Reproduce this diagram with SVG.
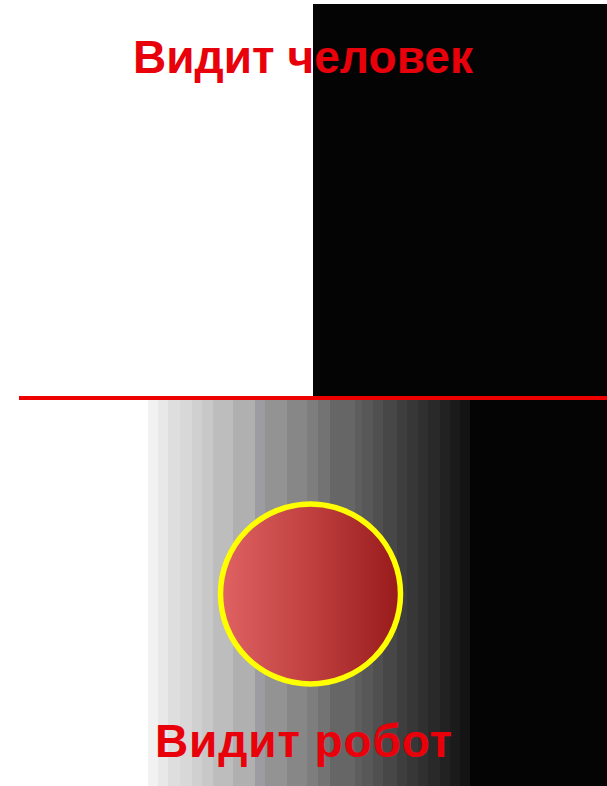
<svg xmlns="http://www.w3.org/2000/svg" width="607" height="786" viewBox="0 0 607 786">
  <defs>
    <style>
      .lbl { font-family: "Liberation Sans", Arial, sans-serif; font-weight: bold; fill: #e8000a; font-size: 46px; }
    </style>
    <linearGradient id="ball" x1="0" y1="0" x2="1" y2="0">
      <stop offset="0" stop-color="#e06262"/>
      <stop offset="0.5" stop-color="#c04040"/>
      <stop offset="1" stop-color="#981a1a"/>
    </linearGradient>
  </defs>
  <rect x="0" y="0" width="607" height="786" fill="#ffffff"/>
  <g id="human-view">
    <rect x="313" y="4" width="294" height="394" fill="#040404"/>
    <text class="lbl" x="133" y="73" textLength="340">Видит человек</text>
  </g>
  <g id="robot-view">
    <rect x="148" y="400" width="10" height="386" fill="#f2f2f2"/>
    <rect x="158" y="400" width="10" height="386" fill="#e8e8e8"/>
    <rect x="168" y="400" width="12" height="386" fill="#dedede"/>
    <rect x="180" y="400" width="12" height="386" fill="#d8d8d8"/>
    <rect x="192" y="400" width="10" height="386" fill="#d0d0d0"/>
    <rect x="202" y="400" width="11" height="386" fill="#c8c8c8"/>
    <rect x="213" y="400" width="20" height="386" fill="#bdbdbd"/>
    <rect x="233" y="400" width="22" height="386" fill="#b0b0b0"/>
    <rect x="255" y="400" width="10" height="386" fill="#9c9ca2"/>
    <rect x="265" y="400" width="22" height="386" fill="#939393"/>
    <rect x="287" y="400" width="20" height="386" fill="#878787"/>
    <rect x="307" y="400" width="11" height="386" fill="#7e7e7e"/>
    <rect x="318" y="400" width="12" height="386" fill="#737373"/>
    <rect x="330" y="400" width="25" height="386" fill="#666666"/>
    <rect x="355" y="400" width="7" height="386" fill="#5e5e5e"/>
    <rect x="362" y="400" width="11" height="386" fill="#585858"/>
    <rect x="373" y="400" width="10" height="386" fill="#505050"/>
    <rect x="383" y="400" width="14" height="386" fill="#474747"/>
    <rect x="397" y="400" width="10" height="386" fill="#3e3e3e"/>
    <rect x="407" y="400" width="11" height="386" fill="#373737"/>
    <rect x="418" y="400" width="10" height="386" fill="#303030"/>
    <rect x="428" y="400" width="12" height="386" fill="#292929"/>
    <rect x="440" y="400" width="10" height="386" fill="#222222"/>
    <rect x="450" y="400" width="10" height="386" fill="#1b1b1b"/>
    <rect x="460" y="400" width="10" height="386" fill="#131313"/>
    <rect x="470" y="400" width="137" height="386" fill="#040404"/>
    <circle cx="310.5" cy="594" r="90" fill="url(#ball)" stroke="#ffff00" stroke-width="5.5"/>
    <text class="lbl" x="155" y="757" textLength="297">Видит робот</text>
  </g>
  <g id="connectors">
    <line x1="19" y1="398" x2="607" y2="398" stroke="#ee0000" stroke-width="4"/>
  </g>
</svg>
